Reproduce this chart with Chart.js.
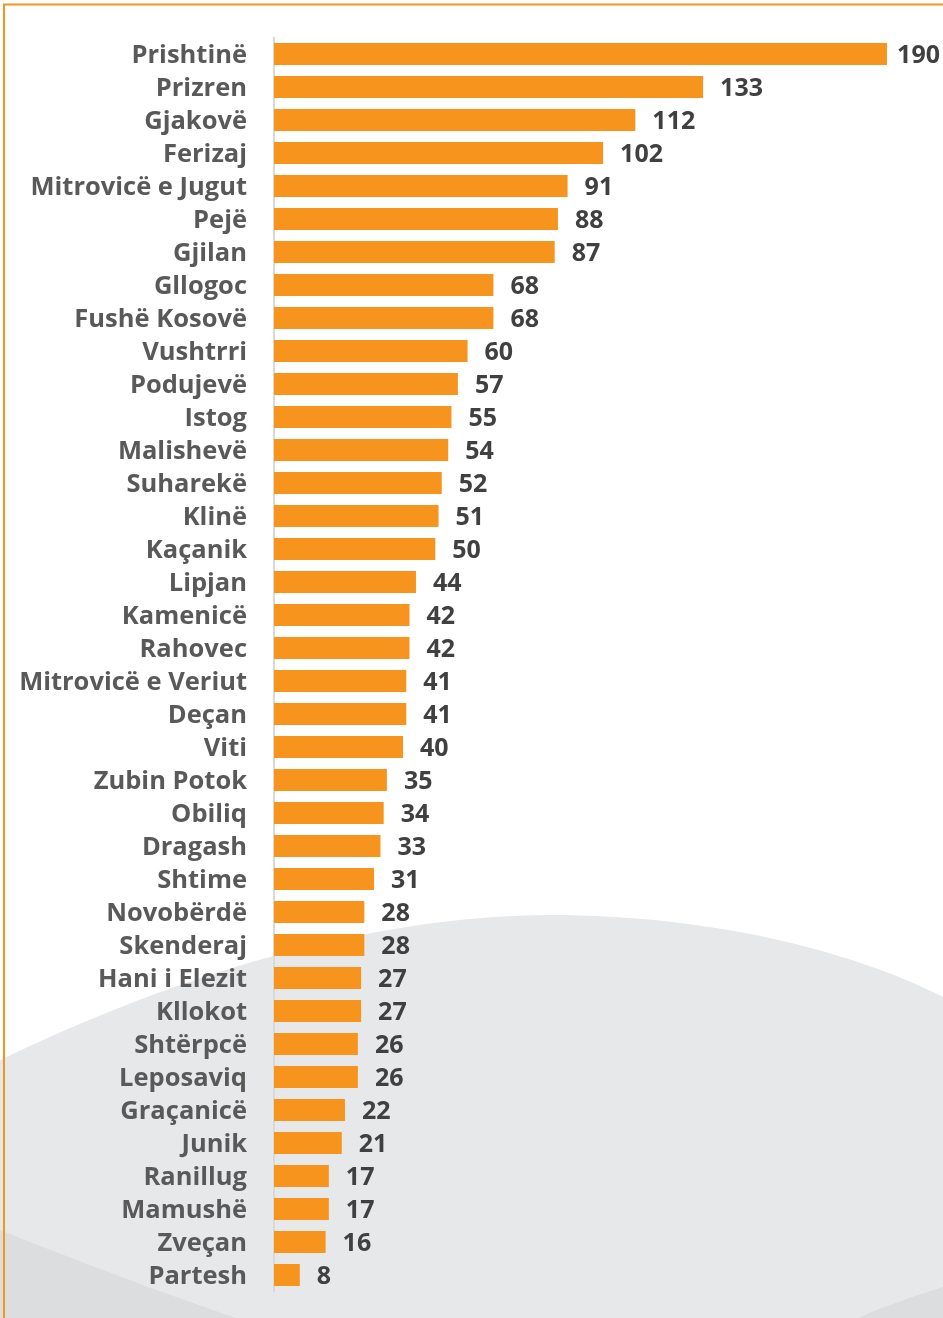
<!DOCTYPE html>
<html>
<head>
<meta charset="utf-8">
<script src="https://cdn.jsdelivr.net/npm/chart.js@4"></script>
<style>
  html, body { margin: 0; padding: 0; background: #fff; }
</style>
</head>
<body>
<canvas id="barChart" width="943" height="1318"></canvas>
<script>
var municipalities = ['Prishtinë', 'Prizren', 'Gjakovë', 'Ferizaj', 'Mitrovicë e Jugut', 'Pejë', 'Gjilan',
    'Gllogoc', 'Fushë Kosovë', 'Vushtrri', 'Podujevë', 'Istog', 'Malishevë', 'Suharekë', 'Klinë',
    'Kaçanik', 'Lipjan', 'Kamenicë', 'Rahovec', 'Mitrovicë e Veriut', 'Deçan', 'Viti', 'Zubin Potok',
    'Obiliq', 'Dragash', 'Shtime', 'Novobërdë', 'Skenderaj', 'Hani i Elezit', 'Kllokot', 'Shtërpcë',
    'Leposaviq', 'Graçanicë', 'Junik', 'Ranillug', 'Mamushë', 'Zveçan', 'Partesh'];
var counts = [190, 133, 112, 102, 91, 88, 87, 68, 68, 60, 57, 55, 54, 52, 51, 50, 44, 42, 42, 41,
    41, 40, 35, 34, 33, 31, 28, 28, 27, 27, 26, 26, 22, 21, 17, 17, 16, 8];

// background: white page, grey waves at the bottom, orange frame
var backdrop = {
    id: 'backdrop',
    beforeDraw: function(chart) {
        var ctx = chart.ctx, w = chart.width, h = chart.height;
        ctx.save();
        ctx.fillStyle = '#ffffff';
        ctx.fillRect(0, 0, w, h);

        ctx.fillStyle = '#e7e8ea';
        ctx.beginPath();
        ctx.moveTo(0, 1060);
        ctx.bezierCurveTo(190, 968, 390, 912, 565, 915);
        ctx.bezierCurveTo(730, 918, 860, 955, w, 997);
        ctx.lineTo(w, h);
        ctx.lineTo(0, h);
        ctx.closePath();
        ctx.fill();

        ctx.fillStyle = '#dcdddf';
        ctx.beginPath();
        ctx.moveTo(0, 1230);
        ctx.bezierCurveTo(80, 1262, 160, 1292, 236, h);
        ctx.lineTo(0, h);
        ctx.closePath();
        ctx.fill();
        ctx.beginPath();
        ctx.moveTo(858, h);
        ctx.bezierCurveTo(885, 1306, 915, 1296, w, 1287);
        ctx.lineTo(w, h);
        ctx.closePath();
        ctx.fill();

        ctx.strokeStyle = '#f7941d';
        ctx.lineWidth = 2;
        ctx.beginPath();
        ctx.moveTo(4, h);
        ctx.lineTo(4, 4.5);
        ctx.lineTo(w, 4.5);
        ctx.stroke();
        ctx.restore();
    }
};

// numbers at the end of each bar
var valueLabels = {
    id: 'valueLabels',
    afterDatasetsDraw: function(chart) {
        var ctx = chart.ctx;
        var meta = chart.getDatasetMeta(0);
        ctx.save();
        ctx.font = 'bold 25px "Open Sans"';
        ctx.fillStyle = '#404040';
        ctx.textAlign = 'left';
        ctx.textBaseline = 'middle';
        meta.data.forEach(function(bar, i) {
            var txt = String(counts[i]);
            var x = Math.min(bar.x + 17, chart.width - 3 - ctx.measureText(txt).width);
            ctx.fillText(txt, x, bar.y + 2);
        });
        ctx.restore();
    }
};

new Chart(document.getElementById('barChart'), {
    type: 'bar',
    data: {
        labels: municipalities,
        datasets: [{
            data: counts,
            backgroundColor: '#f7941d',
            borderWidth: 0,
            categoryPercentage: 1,
            barPercentage: 0.667
        }]
    },
    options: {
        indexAxis: 'y',
        responsive: false,
        animation: false,
        layout: { padding: { top: 37.5, bottom: 26.5, right: 56, left: 0 } },
        plugins: {
            legend: { display: false },
            tooltip: { enabled: false }
        },
        scales: {
            x: { display: false, min: 0, max: 190 },
            y: {
                grid: { display: false, drawTicks: false },
                border: { display: true, color: '#d9d9d9', width: 2 },
                afterFit: function(scale) {
                    scale.width = 274;
                    scale.paddingTop = 0;
                    scale.paddingBottom = 0;
                },
                ticks: {
                    autoSkip: false,
                    padding: 27,
                    labelOffset: 2,
                    color: '#595959',
                    font: { family: '"Open Sans"', size: 25.5, weight: 'bold' }
                }
            }
        }
    },
    plugins: [backdrop, valueLabels]
});
</script>
</body>
</html>
